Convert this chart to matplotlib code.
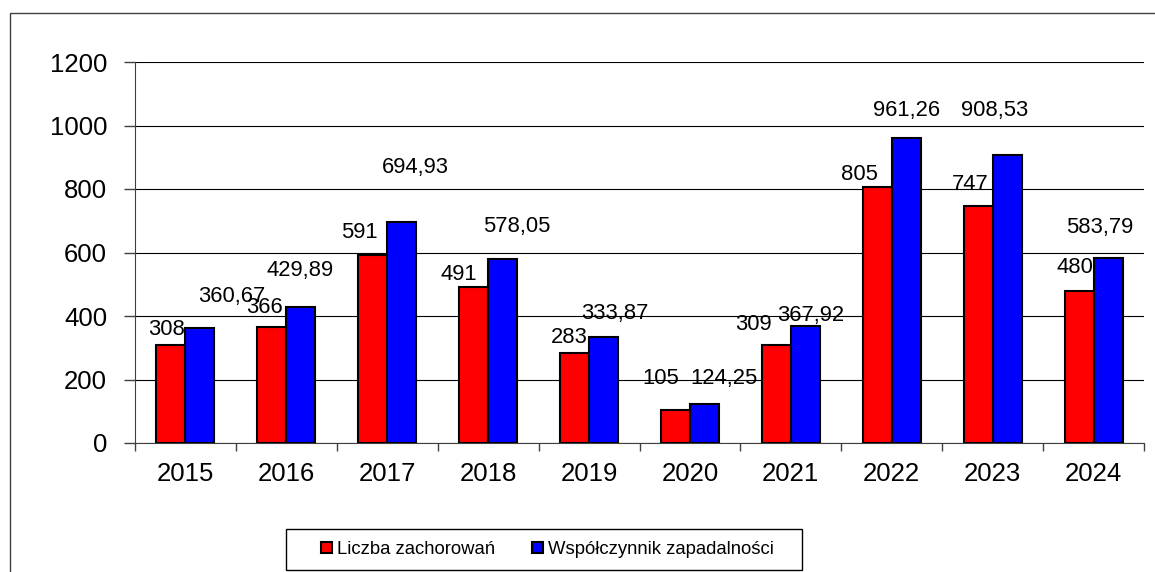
import numpy as np
import matplotlib
matplotlib.use("Agg")
import matplotlib.pyplot as plt
from matplotlib.patches import Rectangle

plt.rcParams['font.family'] = ['Liberation Sans', 'DejaVu Sans']

# --------------------------------
# Dane
# --------------------------------
lata = ['2015', '2016', '2017', '2018', '2019', '2020', '2021', '2022', '2023', '2024']
zachorowania = [308, 366, 591, 491, 283, 105, 309, 805, 747, 480]
wspolczynnik = [360.67, 429.89, 694.93, 578.05, 333.87, 124.25, 367.92, 961.26, 908.53, 583.79]

# przesuniecia etykiet (piksele) - jak w oryginalnym wykresie Excela
off_red = [(-4.5, 18), (-7.5, 21.5), (-13, 25), (-14.5, 15), (-5.5, 17.5),
           (-15, 33.5), (-22.5, 22), (-17.5, 14.5), (-8, 23.5), (-4.5, 25.5)]
off_blue = [(32, 34), (-1, 38.5), (14, 57), (14.5, 34.5), (11, 25.5),
            (19.5, 27.5), (5.5, 13), (0, 29), (-13, 46), (-8.5, 32.5)]

def fmt(v):
    if float(v).is_integer():
        return str(int(v))
    return f"{v:.2f}".replace('.', ',')

# --------------------------------
# Wykres
# --------------------------------
fig = plt.figure(figsize=(11.55, 5.72), dpi=100)
ax = fig.add_axes([135 / 1155, 1 - 443 / 572, 1009 / 1155, 381 / 572])

# ramka wykresu
fig.patches.append(Rectangle((10 / 1155, -0.05), 1.2, 1 - 13 / 572 + 0.05,
                             transform=fig.transFigure, fill=False,
                             edgecolor='#404040', linewidth=1.0))

x = np.arange(len(lata))
w = 0.2874
b1 = ax.bar(x - w / 2, zachorowania, w, color='#FF0000', edgecolor='black',
            linewidth=1.5, label='Liczba zachorowań', zorder=3)
b2 = ax.bar(x + w / 2, wspolczynnik, w, color='#0000FF', edgecolor='black',
            linewidth=1.5, label='Współczynnik zapadalności', zorder=3)

for xi, v, (dx, dy) in zip(x - w / 2, zachorowania, off_red):
    ax.annotate(fmt(v), (xi, v), xytext=(dx, dy - 7.5), textcoords='offset pixels',
                ha='center', va='baseline', fontsize=15.8, zorder=4)
for xi, v, (dx, dy) in zip(x + w / 2, wspolczynnik, off_blue):
    ax.annotate(fmt(v), (xi, v), xytext=(dx, dy - 7.5), textcoords='offset pixels',
                ha='center', va='baseline', fontsize=15.8, zorder=4)

ax.set_xlim(-0.5, 9.5)
ax.set_ylim(0, 1200)
ax.set_yticks(range(0, 1201, 200))
ax.yaxis.grid(True, color='black', linewidth=0.8, zorder=0)
ax.set_axisbelow(True)

# ticki osi X na granicach kategorii
ax.set_xticks(np.arange(-0.5, 10, 1), minor=False)
ax.set_xticklabels([])
ax.set_xticks(x, minor=True)
ax.set_xticklabels(lata, minor=True, fontsize=18.5)
ax.tick_params(axis='x', which='major', length=6, color='#404040', width=1)
ax.tick_params(axis='x', which='minor', length=0, pad=14)
ax.tick_params(axis='y', length=8, color='#404040', width=1, pad=12, labelsize=18.5)

for s in ['top', 'right']:
    ax.spines[s].set_visible(False)
ax.spines['left'].set_color('#404040')
ax.spines['bottom'].set_color('#404040')

# legenda - ramka rysowana osobno
fig.patches.append(Rectangle((286 / 1155, 1 - 570 / 572), 516 / 1155, 41 / 572,
                             transform=fig.transFigure, fill=True, facecolor='white',
                             edgecolor='black', linewidth=1.0))
leg = fig.legend(handles=[b1, b2], loc='center',
                 bbox_to_anchor=(547.5 / 1155, 1 - 549.5 / 572), ncol=2,
                 fontsize=13.3, frameon=False,
                 handlelength=0.6, handleheight=0.6, handletextpad=0.25,
                 columnspacing=2.0, borderpad=0.0)

plt.savefig('out.png', dpi=100)
